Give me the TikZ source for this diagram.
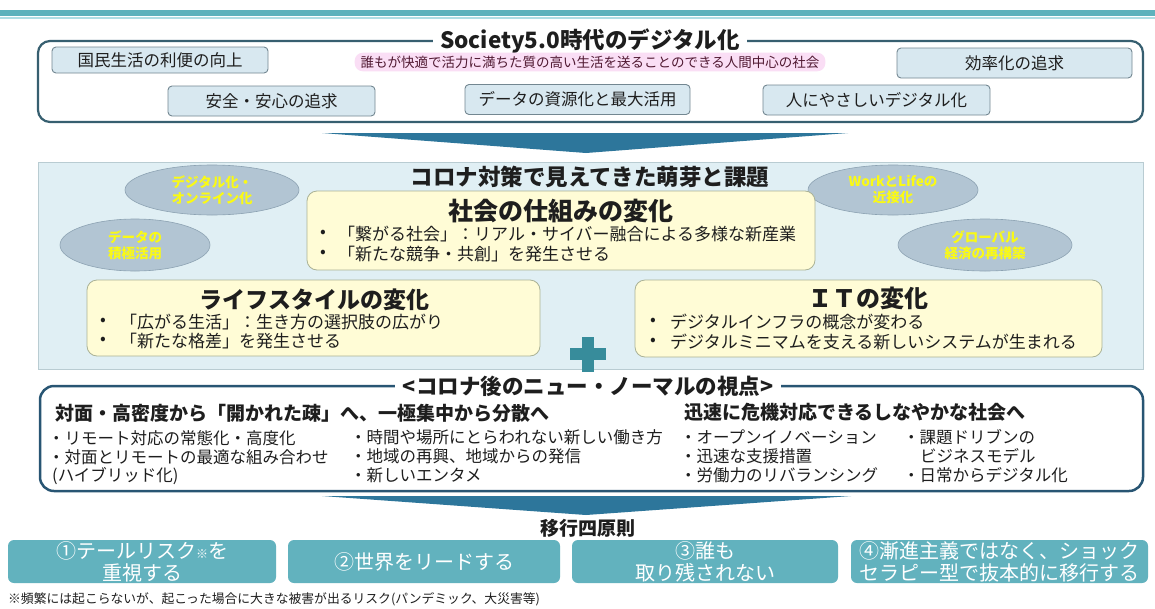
\documentclass[tikz,border=0pt]{standalone}
\usepackage{fontspec}
\setmainfont{Noto Sans CJK JP}
\usetikzlibrary{shapes.geometric}
\definecolor{txt}{RGB}{30,30,30}
\definecolor{band}{RGB}{93,178,188}
\definecolor{bandlight}{RGB}{175,222,228}
\definecolor{boxone}{RGB}{55,95,112}
\definecolor{minifill}{RGB}{216,232,240}
\definecolor{minibd}{RGB}{115,135,145}
\definecolor{pinkglow}{RGB}{250,222,245}
\definecolor{pinktxt}{RGB}{80,25,50}
\definecolor{wedge}{RGB}{45,118,155}
\definecolor{panelfill}{RGB}{224,239,244}
\definecolor{panelbd}{RGB}{185,204,210}
\definecolor{yelfill}{RGB}{255,252,214}
\definecolor{yelbd}{RGB}{170,178,150}
\definecolor{ellfill}{RGB}{178,197,211}
\definecolor{ellbd}{RGB}{140,162,178}
\definecolor{elltxt}{RGB}{250,250,20}
\definecolor{plus}{RGB}{55,140,155}
\definecolor{boxthree}{RGB}{40,85,115}
\definecolor{tealbox}{RGB}{98,178,190}
\newcommand\myfs[2]{\fontsize{#1pt}{#2pt}\selectfont}
\tikzset{
  minibox/.style={draw=minibd, fill=minifill, rounded corners=4pt, line width=0.9pt,
    font=\myfs{16.5}{19}, text=txt, inner sep=0pt},
  ell/.style={ellipse, draw=ellbd, fill=ellfill, text=elltxt, align=center,
    font=\myfs{13.5}{16}\bfseries, inner sep=0pt, line width=0.6pt},
  yel/.style={draw=yelbd, fill=yelfill, rounded corners=10pt, line width=0.8pt, inner sep=0pt},
  bul/.style={anchor=west, font=\myfs{17}{20}, text=txt, inner sep=0pt},
  item/.style={anchor=west, font=\myfs{16.5}{19}, text=txt, inner sep=0pt},
  tealb/.style={fill=tealbox, rounded corners=6pt, text=white, align=center,
    font=\myfs{20}{22}, inner sep=0pt},
}
\begin{document}
\begin{tikzpicture}[x=1pt,y=-1pt]
\useasboundingbox (0,0) rectangle (1155,608);
\fill[white] (0,0) rectangle (1155,608);
% top band
\fill[band] (0,10) rectangle (1155,16);
\fill[bandlight] (0,17) rectangle (1155,19);

% box 1
\draw[boxone, line width=2.2pt, rounded corners=12pt] (38,41) rectangle (1143,122);
\node[fill=white, inner xsep=7pt, inner ysep=0pt, font=\myfs{22.5}{25}\bfseries, text=txt] (t1) at (590,41) {Society5.0時代のデジタル化};
\node[minibox, minimum width=216pt, minimum height=26pt] (b1) at (160,60) {国民生活の利便の向上};
\node[fill=pinkglow, rounded corners=8pt, inner xsep=6pt, inner ysep=3pt, font=\myfs{13.5}{15}, text=pinktxt] (pk) at (590,62) {誰もが快適で活力に満ちた質の高い生活を送ることのできる人間中心の社会};
\node[minibox, minimum width=235pt, minimum height=30pt] (b2) at (1014.5,63) {効率化の追求};
\node[minibox, minimum width=207pt, minimum height=30pt] (b3) at (271.5,101) {安全・安心の追求};
\node[minibox, minimum width=225pt, minimum height=30pt] (b4) at (577.5,99.5) {データの資源化と最大活用};
\node[minibox, minimum width=227pt, minimum height=30pt] (b5) at (876.5,100) {人にやさしいデジタル化};

% wedge 1
\fill[wedge] (322,133) -- (848,133) -- (586,153) -- cycle;

% panel
\draw[panelbd, fill=panelfill, line width=0.8pt] (38,162) rectangle (1143,369);
\node[font=\myfs{22.5}{25}\bfseries, text=txt, inner sep=0pt] (t2) at (590,177) {コロナ対策で見えてきた萌芽と課題};

\node[ell, minimum width=174pt, minimum height=50pt] (e1) at (212,190) {デジタル化・\\オンライン化};
\node[ell, minimum width=150pt, minimum height=52pt] (e2) at (135,245) {データの\\積極活用};
\node[ell, minimum width=170pt, minimum height=50pt] (e3) at (893,190) {WorkとLifeの\\近接化};
\node[ell, minimum width=174pt, minimum height=52pt] (e4) at (985,245) {グローバル\\経済の再構築};

\node[yel, minimum width=508pt, minimum height=79pt] (y1) at (561,230.5) {};
\node[font=\myfs{25}{28}\bfseries, text=txt, inner sep=0pt] (h1) at (561,211) {社会の仕組みの変化};
\node[bul] (y1a) at (320,234) {•};
\node[bul] (y1b) at (320,254) {•};
\node[bul] (y1c) at (338,234) {「繋がる社会」：リアル・サイバー融合による多様な新産業};
\node[bul] (y1d) at (338,254) {「新たな競争・共創」を発生させる};

\node[yel, minimum width=453pt, minimum height=76pt] (y2) at (313.5,318) {};
\node[font=\myfs{23}{26}\bfseries, text=txt, inner sep=0pt] (h2) at (314,300) {ライフスタイルの変化};
\node[bul] (y2a) at (100,322) {•};
\node[bul] (y2b) at (100,341) {•};
\node[bul] (y2c) at (120,322) {「広がる生活」：生き方の選択肢の広がり};
\node[bul] (y2d) at (120,341) {「新たな格差」を発生させる};

\node[yel, minimum width=467pt, minimum height=77pt] (y3) at (868.5,318.5) {};
\node[font=\myfs{24}{27}\bfseries, text=txt, inner sep=0pt] (h3) at (868,298) {ＩＴの変化};
\node[bul] (y3a) at (650,322) {•};
\node[bul] (y3b) at (650,342) {•};
\node[bul] (y3c) at (670,322) {デジタルインフラの概念が変わる};
\node[bul] (y3d) at (670,342) {デジタルミニマムを支える新しいシステムが生まれる};

% plus
\fill[plus] (582,337) rectangle (594,372);
\fill[plus] (570,348) rectangle (606,360);

% box 3
\draw[boxthree, line width=2.5pt, rounded corners=14pt] (40,386) rectangle (1143,491);
\node[fill=white, inner xsep=8pt, inner ysep=0pt, font=\myfs{21.5}{24}\bfseries, text=txt] (t3) at (588,386) {<コロナ後のニュー・ノーマルの視点>};
\node[anchor=west, inner sep=0pt, font=\myfs{19}{22}\bfseries, text=txt] (k1) at (55,413) {対面・高密度から「開かれた疎」へ、一極集中から分散へ};
\node[item] (k1a) at (48,438) {・リモート対応の常態化・高度化};
\node[item] (k1b) at (48,457) {・対面とリモートの最適な組み合わせ};
\node[item] (k1c) at (52,476) {(ハイブリッド化)};
\node[item] (k2a) at (350,437) {・時間や場所にとらわれない新しい働き方};
\node[item] (k2b) at (350,456) {・地域の再興、地域からの発信};
\node[item] (k2c) at (350,475) {・新しいエンタメ};
\node[anchor=west, inner sep=0pt, font=\myfs{19}{22}\bfseries, text=txt] (k3) at (684,412) {迅速に危機対応できるしなやかな社会へ};
\node[item] (k3a) at (680,437) {・オープンイノベーション};
\node[item] (k3b) at (680,456) {・迅速な支援措置};
\node[item] (k3c) at (680,475) {・労働力のリバランシング};
\node[item] (k4a) at (903,437) {・課題ドリブンの};
\node[item] (k4b) at (920,456) {ビジネスモデル};
\node[item] (k4c) at (903,475) {・日常からデジタル化};

% wedge 2
\fill[wedge] (322,496) -- (851,496) -- (586,515) -- cycle;
\node[font=\myfs{19}{22}\bfseries, text=txt, inner sep=0pt] (t4) at (588,528) {移行四原則};

% four principles
\node[tealb, minimum width=268pt, minimum height=43pt] (p1) at (142,561.5) {①テールリスク{\myfs{12}{12}※}を\\重視する};
\node[tealb, minimum width=272pt, minimum height=43pt] (p2) at (424,561.5) {②世界をリードする};
\node[tealb, minimum width=266pt, minimum height=43pt] (p3) at (705,561.5) {③誰も\\取り残されない};
\node[tealb, minimum width=297pt, minimum height=43pt] (p4) at (999.5,561.5) {④漸進主義ではなく、ショック\\セラピー型で抜本的に移行する};
\node[anchor=west, inner sep=0pt, font=\myfs{12.8}{14}, text=txt] (fn) at (8,599) {※頻繁には起こらないが、起こった場合に大きな被害が出るリスク(パンデミック、大災害等)};
\end{tikzpicture}
\end{document}
